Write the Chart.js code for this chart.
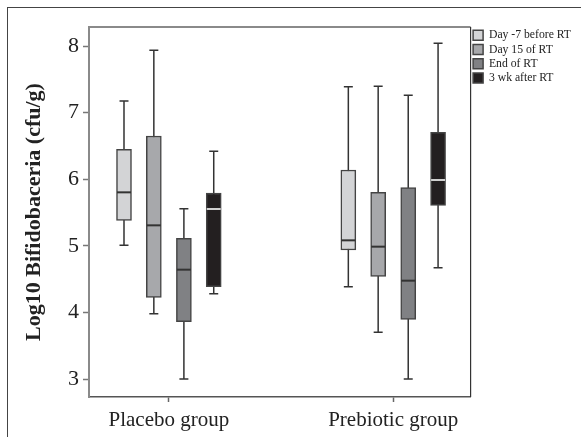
<!DOCTYPE html>
<html>
<head>
    <title>Log10 Bifidobaceria box plot</title>
    <script src="https://cdn.jsdelivr.net/npm/chart.js"></script>
    <style>
        body { margin: 0; background: #fff; }
        .wrap { position: relative; width: 581px; height: 437px; overflow: hidden; }
        .frame { position: absolute; left: 7px; top: 7px; width: 700px; height: 600px; border: 1px solid #444; }
        canvas { position: absolute; left: 0; top: 0; }
    </style>
</head>
<body>
    <div class="wrap">
        <div class="frame"></div>
        <canvas id="box" width="581" height="437"></canvas>
    </div>
    <script>
        // groups on the x axis, one box per time point in each group
        const groups = ['Placebo group', 'Prebiotic group'];
        const timepoints = ['Day -7 before RT', 'Day 15 of RT', 'End of RT', '3 wk after RT'];
        const yTicks = [3, 4, 5, 6, 7, 8];

        // [placebo, prebiotic] for each time point
        const mins    = [[5.01, 4.39], [3.985, 3.705], [3.005, 3.005], [4.285, 4.675]];
        const q1s     = [[5.385, 4.94], [4.23, 4.545], [3.865, 3.9], [4.39, 5.61]];
        const medians = [[5.805, 5.085], [5.31, 4.99], [4.645, 4.48], [5.555, 5.99]];
        const q3s     = [[6.45, 6.14], [6.65, 5.805], [5.115, 5.875], [5.795, 6.705]];
        const maxs    = [[7.175, 7.39], [7.935, 7.395], [5.56, 7.26], [6.42, 8.04]];

        const fills = ['#d3d4d6', '#a7a8ab', '#808184', '#231f20'];
        const medianColors = ['#333', '#333', '#333', '#d0d0d0'];
        const offsets = [-0.2, -0.067, 0.067, 0.2];

        const datasets = timepoints.map((name, s) => ({
            label: name,
            data: groups.map((g, i) => ({ x: i + offsets[s], y: [q1s[s][i], q3s[s][i]] })),
            backgroundColor: fills[s],
            borderColor: '#444',
            borderWidth: 1.5,
            borderSkipped: false,
            grouped: false,
            barThickness: 15
        }));

        // whiskers, caps and medians, placed through the chart scales
        const boxParts = {
            id: 'boxParts',
            beforeDatasetsDraw(chart) {
                const { ctx, scales: { x, y } } = chart;
                ctx.save();
                ctx.strokeStyle = '#333';
                ctx.lineWidth = 1.5;
                timepoints.forEach((t, s) => {
                    groups.forEach((g, i) => {
                        const px = x.getPixelForValue(i + offsets[s]);
                        const top = y.getPixelForValue(maxs[s][i]);
                        const bot = y.getPixelForValue(mins[s][i]);
                        ctx.beginPath();
                        ctx.moveTo(px, top); ctx.lineTo(px, bot);
                        ctx.moveTo(px - 4.5, top); ctx.lineTo(px + 4.5, top);
                        ctx.moveTo(px - 4.5, bot); ctx.lineTo(px + 4.5, bot);
                        ctx.stroke();
                    });
                });
                ctx.restore();
            },
            afterDatasetsDraw(chart) {
                const { ctx, chartArea, scales: { x, y } } = chart;
                ctx.save();
                ctx.lineWidth = 2;
                timepoints.forEach((t, s) => {
                    ctx.strokeStyle = medianColors[s];
                    groups.forEach((g, i) => {
                        const px = x.getPixelForValue(i + offsets[s]);
                        const py = y.getPixelForValue(medians[s][i]);
                        ctx.beginPath();
                        ctx.moveTo(px - 7, py); ctx.lineTo(px + 7, py);
                        ctx.stroke();
                    });
                });
                // top and right edges of the plot box
                ctx.lineWidth = 2;
                ctx.strokeStyle = '#8a8a8a';
                ctx.beginPath();
                ctx.moveTo(chartArea.left, chartArea.top);
                ctx.lineTo(chartArea.right, chartArea.top);
                ctx.stroke();
                ctx.lineWidth = 1.2;
                ctx.strokeStyle = '#333';
                ctx.beginPath();
                ctx.moveTo(chartArea.right, chartArea.top);
                ctx.lineTo(chartArea.right, chartArea.bottom);
                ctx.stroke();
                ctx.restore();
            }
        };

        new Chart(document.getElementById('box'), {
            type: 'bar',
            data: { datasets },
            options: {
                responsive: false,
                animation: false,
                layout: { padding: { left: 14, top: 27, right: 0, bottom: 0 } },
                plugins: {
                    tooltip: { enabled: false },
                    legend: {
                        position: 'right',
                        align: 'start',
                        fullSize: false,
                        labels: {
                            boxWidth: 10,
                            boxHeight: 10,
                            padding: 2.5,
                            color: '#222',
                            font: { family: 'Liberation Serif', size: 11.7 }
                        }
                    }
                },
                scales: {
                    x: {
                        type: 'linear',
                        offset: false,
                        min: -0.356,
                        max: 1.345,
                        afterBuildTicks: (scale) => { scale.ticks = groups.map((g, i) => ({ value: i })); },
                        ticks: {
                            callback: (v) => groups[v],
                            color: '#222',
                            padding: 6,
                            maxRotation: 0,
                            autoSkip: false,
                            font: { family: 'Liberation Serif', size: 21 }
                        },
                        grid: { offset: false, drawOnChartArea: false, tickLength: 5, color: '#666', tickWidth: 1.5 },
                        border: { color: '#555', width: 1.5 },
                        afterFit: (scale) => { scale.height = 40; }
                    },
                    y: {
                        min: 2.735,
                        max: 8.285,
                        afterBuildTicks: (scale) => { scale.ticks = yTicks.map(v => ({ value: v })); },
                        ticks: {
                            color: '#222',
                            padding: 4,
                            font: { family: 'Liberation Serif', size: 22 }
                        },
                        grid: { drawOnChartArea: false, tickLength: 6, color: '#777', tickWidth: 1.5 },
                        border: { color: '#8a8a8a', width: 2 },
                        title: {
                            display: true,
                            text: 'Log10 Bifidobaceria (cfu/g)',
                            color: '#222',
                            padding: { top: 7, bottom: 0 },
                            font: { family: 'Liberation Serif', size: 22, weight: 'bold' }
                        },
                        afterFit: (scale) => { scale.width = 75; }
                    }
                }
            },
            plugins: [boxParts]
        });
    </script>
</body>
</html>
